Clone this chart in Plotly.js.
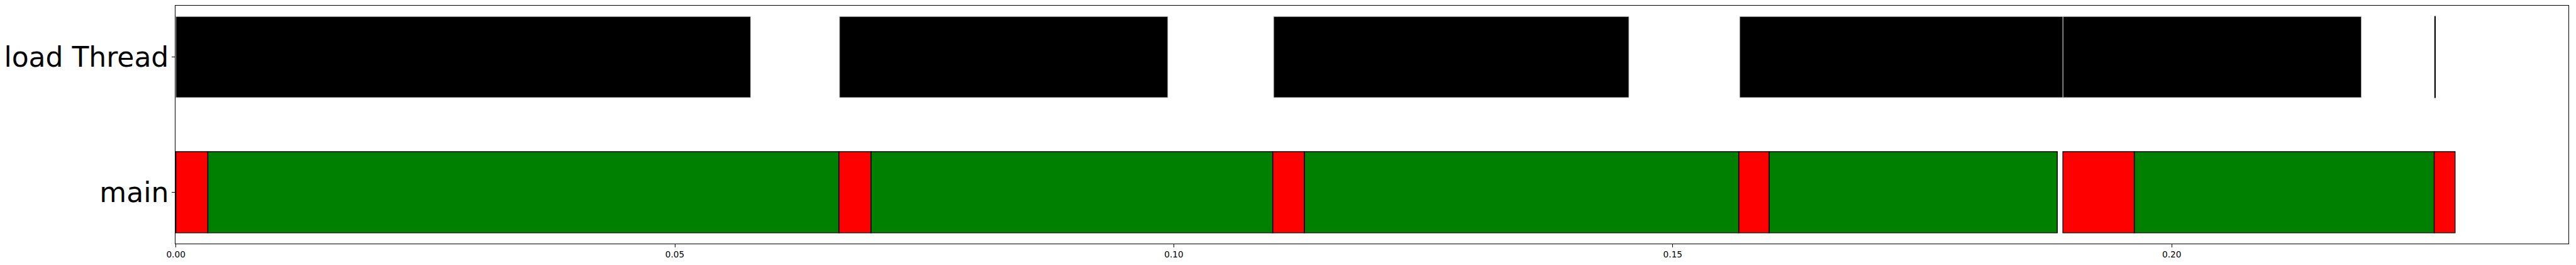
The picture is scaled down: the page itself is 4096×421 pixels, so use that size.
<!DOCTYPE html>
<html>
<head>
<meta charset="utf-8">
<script src="https://cdn.plot.ly/plotly-3.0.1.min.js"></script>
<style>
  html, body { margin: 0; padding: 0; background: #fff; }
  #chart { width: 4096px; height: 421px; }
</style>
</head>
<body>
<div id="chart"></div>
<script>
// ---- data (seconds) ----
var threads = ["main", "load Thread"];

var loadStart = [0.0000, 0.0665, 0.1100, 0.1567, 0.1891, 0.22635];
var loadEnd   = [0.0576, 0.0994, 0.1456, 0.1891, 0.2190, 0.22641];

var mainStart = [0.0000, 0.0032, 0.06645, 0.06965, 0.10992, 0.11308, 0.15662, 0.15965, 0.18909, 0.19624, 0.22630];
var mainEnd   = [0.0032, 0.06645, 0.06965, 0.10992, 0.11308, 0.15662, 0.15965, 0.18853, 0.19624, 0.22630, 0.22839];
var mainState = ["wait", "run", "wait", "run", "wait", "run", "wait", "run", "wait", "run", "wait"];

var xTicks = [0.00, 0.05, 0.10, 0.15, 0.20];

// ---- build traces ----
function lens(s, e) { return s.map(function (v, i) { return e[i] - v; }); }

var S = 0.982;
var stateColor = { run: "green", wait: "red" };

var runIdx = [], waitIdx = [];
mainState.forEach(function (st, i) { (st === "run" ? runIdx : waitIdx).push(i); });

function pick(arr, idx) { return idx.map(function (i) { return arr[i]; }); }

var thinFlags = loadStart.map(function (s, i) { return (loadEnd[i] - s) < 0.0005; });

var traces = [
  {
    type: "bar", orientation: "h", name: "load Thread",
    y: loadStart.map(function () { return threads[1]; }),
    base: loadStart, x: lens(loadStart, loadEnd),
    width: 0.6,
    marker: {
      color: "black",
      line: {
        color: thinFlags.map(function (t) { return t ? "black" : "#c8c8c8"; }),
        width: thinFlags.map(function (t) { return t ? 1.2 : 1; })
      }
    }
  },
  {
    type: "bar", orientation: "h", name: "run",
    y: runIdx.map(function () { return threads[0]; }),
    base: pick(mainStart, runIdx), x: lens(pick(mainStart, runIdx), pick(mainEnd, runIdx)),
    width: 0.6,
    marker: { color: stateColor.run, line: { color: "black", width: 1.4 * S } }
  },
  {
    type: "bar", orientation: "h", name: "wait",
    y: waitIdx.map(function () { return threads[0]; }),
    base: pick(mainStart, waitIdx), x: lens(pick(mainStart, waitIdx), pick(mainEnd, waitIdx)),
    width: 0.6,
    marker: { color: stateColor.wait, line: { color: "black", width: 1.4 * S } }
  }
];

var layout = {
  width: 4096, height: 421,
  margin: { l: 279.2, r: 11.6, t: 9.1, b: 33.8, pad: 0 },
  paper_bgcolor: "white", plot_bgcolor: "white",
  showlegend: false,
  barmode: "overlay",
  font: { family: "DejaVu Sans", color: "black" },
  xaxis: {
    range: [-0.00004, 0.23975],
    tickvals: xTicks,
    ticktext: xTicks.map(function (v) { return v.toFixed(2); }),
    tickfont: { size: 13.7, family: "DejaVu Sans", color: "black" },
    ticks: "outside", ticklen: 4.8, tickwidth: 1, tickcolor: "black",
    showline: true, mirror: true, linecolor: "black", linewidth: 1.1,
    showgrid: false, zeroline: false
  },
  yaxis: {
    type: "category",
    categoryorder: "array", categoryarray: threads,
    range: [-0.38, 1.38],
    tickfont: { size: 44, family: "DejaVu Sans", color: "black" },
    ticklabelstandoff: -4,
    ticks: "outside", ticklen: 4.8, tickwidth: 1, tickcolor: "black",
    showline: true, mirror: true, linecolor: "black", linewidth: 1.1,
    showgrid: false, zeroline: false,
    automargin: false
  }
};

Plotly.newPlot("chart", traces, layout, { displayModeBar: false, staticPlot: true });
</script>
</body>
</html>
